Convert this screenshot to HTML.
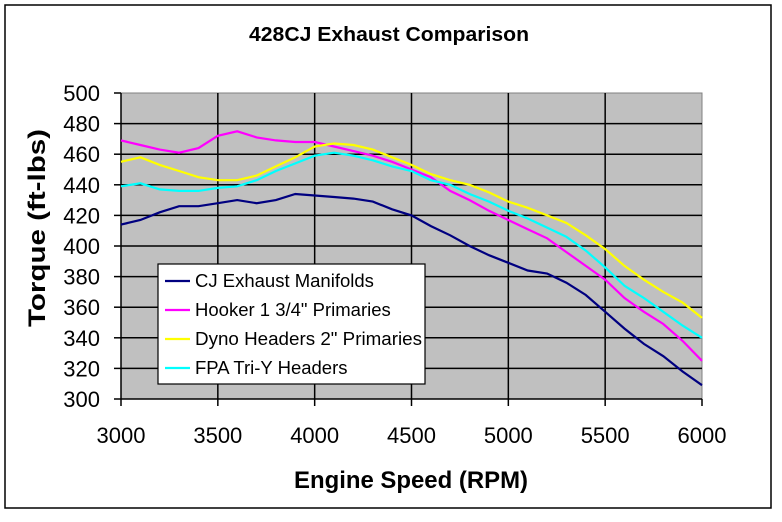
<!DOCTYPE html><html><head><style>body{margin:0;background:#fff}svg{display:block}text{font-family:"Liberation Sans",Arial,sans-serif}</style></head><body>
<svg id="s" width="782" height="522" xmlns="http://www.w3.org/2000/svg">
<rect x="5" y="5" width="766" height="503" fill="#fff" stroke="#000" stroke-width="1.5"/>
<text x="389" y="41" font-size="20" font-weight="bold" text-anchor="middle" textLength="280" lengthAdjust="spacingAndGlyphs">428CJ Exhaust Comparison</text>
<rect x="121" y="93" width="581" height="306" fill="#c0c0c0" stroke="#808080"/>
<g id="grid" stroke="#000" stroke-width="1.5"></g>
<g id="lab" font-size="22" ></g>
<g id="ser" fill="none" stroke-width="2.2"></g>
<text x="411" y="488" font-size="24" font-weight="bold" text-anchor="middle" textLength="234" lengthAdjust="spacingAndGlyphs">Engine Speed (RPM)</text>
<text transform="translate(45,228) rotate(-90)" font-size="24" font-weight="bold" text-anchor="middle" textLength="198" lengthAdjust="spacingAndGlyphs">Torque (ft-lbs)</text>
<rect x="158" y="264" width="267" height="120" fill="#fff" stroke="#000" stroke-width="1.2"/>
<g font-size="18.5">
<line x1="165" y1="281" x2="190" y2="281" stroke="#000080" stroke-width="2.2"/><text x="195" y="287">CJ Exhaust Manifolds</text>
<line x1="165" y1="310" x2="190" y2="310" stroke="#ff00ff" stroke-width="2.2"/><text x="195" y="316">Hooker 1 3/4" Primaries</text>
<line x1="165" y1="339" x2="190" y2="339" stroke="#ffff00" stroke-width="2.2"/><text x="195" y="345" textLength="227" lengthAdjust="spacingAndGlyphs">Dyno Headers 2" Primaries</text>
<line x1="165" y1="368" x2="190" y2="368" stroke="#00ffff" stroke-width="2.2"/><text x="195" y="374">FPA Tri-Y Headers</text>
</g>
</svg>
<script>
const X=r=>121+(r-3000)/3000*581, Y=v=>399-(v-300)*1.53;
let g='',l='';
for(let v=300;v<=500;v+=20){const y=Y(v);if(v>300&&v<500)g+=`<line x1="121" y1="${y}" x2="702" y2="${y}"/>`;g+=`<line x1="114" y1="${y}" x2="121" y2="${y}"/>`;l+=`<text x="100" y="${y+8}" text-anchor="end">${v}</text>`;}
for(let r=3000;r<=6000;r+=500){const x=X(r);if(r>3000&&r<6000)g+=`<line x1="${x}" y1="93" x2="${x}" y2="399"/>`;g+=`<line x1="${x}" y1="399" x2="${x}" y2="406"/>`;l+=`<text x="${x}" y="443" text-anchor="middle">${r}</text>`;}
g+=`<line x1="121" y1="399" x2="702" y2="399"/><line x1="121" y1="93" x2="121" y2="399"/>`;
document.getElementById('grid').innerHTML=g;document.getElementById('lab').innerHTML=l;
const D={"#000080":[414,417,422,426,426,428,430,428,430,434,433,432,431,429,424,420,413,407,400,394,389,384,382,376,368,357,346,336,328,318,309],
"#ff00ff":[469,466,463,461,464,472,475,471,469,468,468,465,462,459,455,450,445,436,430,423,417,411,405,396,387,378,366,357,349,338,325],
"#ffff00":[455,458,453,449,445,443,443,446,452,458,465,467,466,463,458,453,447,443,440,435,429,425,420,415,407,398,387,378,370,363,353],
"#00ffff":[439,441,437,436,436,438,439,443,449,454,459,461,459,456,452,449,443,440,434,429,423,418,412,406,397,386,374,366,357,348,340]};
let s='';for(const c of ["#000080","#ff00ff","#ffff00","#00ffff"]){s+=`<polyline stroke="${c}" points="${D[c].map((v,i)=>X(3000+100*i).toFixed(1)+','+Y(v).toFixed(1)).join(' ')}"/>`;}
document.getElementById('ser').innerHTML=s;
</script></body></html>
